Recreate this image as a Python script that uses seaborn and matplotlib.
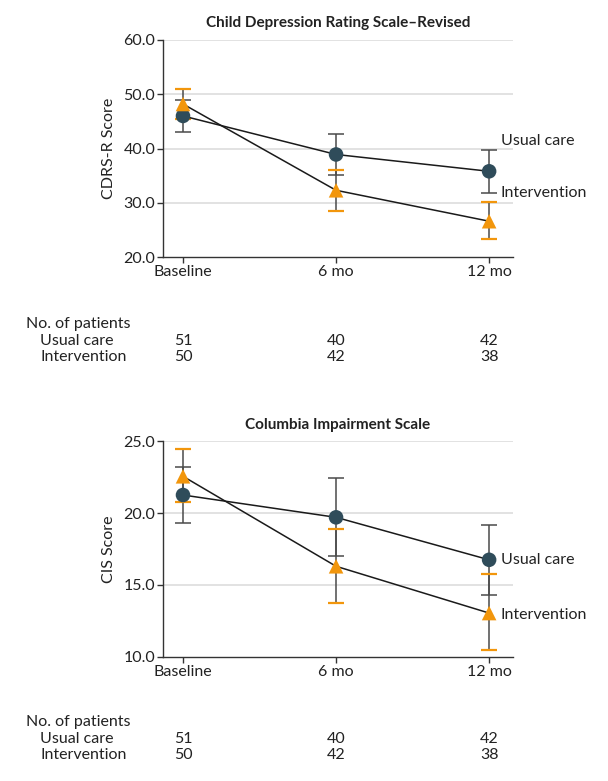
import matplotlib
matplotlib.use("Agg")
import matplotlib.pyplot as plt
import matplotlib.transforms as mtransforms
import seaborn as sns
import pandas as pd

# time points and groups
time_points = ["Baseline", "6 mo", "12 mo"]
groups = ["Usual care", "Intervention"]

# CDRS-R means and 95% CI
cdrs_usual = [46.0, 38.9, 35.8]
cdrs_usual_lo = [43.0, 35.1, 31.8]
cdrs_usual_hi = [48.9, 42.7, 39.7]
cdrs_int = [48.2, 32.3, 26.6]
cdrs_int_lo = [45.5, 28.5, 23.3]
cdrs_int_hi = [50.9, 36.1, 30.2]

# CIS means and 95% CI
cis_usual = [21.25, 19.7, 16.75]
cis_usual_lo = [19.3, 17.0, 14.3]
cis_usual_hi = [23.2, 22.45, 19.2]
cis_int = [22.55, 16.3, 13.05]
cis_int_lo = [20.75, 13.75, 10.45]
cis_int_hi = [24.45, 18.9, 15.75]

# patients at each visit
n_usual = [51, 40, 42]
n_int = [50, 42, 38]

NAVY = "#2F4C5A"
ORANGE = "#F2960C"
BAR = "#4A4A4A"
TXT = "#222222"

sns.set_style("white")
plt.rcParams["font.family"] = ["Lato", "DejaVu Sans"]
plt.rcParams["font.size"] = 11.5


def make_df(u, ulo, uhi, i, ilo, ihi):
    rows = []
    for g, m, lo, hi in [("Usual care", u, ulo, uhi), ("Intervention", i, ilo, ihi)]:
        for k, t in enumerate(time_points):
            rows.append({"time": t, "pos": k, "group": g, "mean": m[k], "lo": lo[k], "hi": hi[k]})
    return pd.DataFrame(rows)


def draw_panel(ax, df, title, ylabel, ylim, yticks, lab_y):
    # connecting lines
    for g in groups:
        d = df[df.group == g]
        sns.lineplot(data=d, x="pos", y="mean", color="#1a1a1a", lw=1.1, ax=ax,
                     zorder=2, legend=False, sort=False)
    # error bars: gray stem, coloured caps
    for g, capc in [("Usual care", BAR), ("Intervention", ORANGE)]:
        d = df[df.group == g]
        err = [d["mean"] - d["lo"], d["hi"] - d["mean"]]
        ax.errorbar(d["pos"], d["mean"], yerr=err, fmt="none", ecolor=BAR,
                    elinewidth=1.1, capsize=0, zorder=1)
        ax.errorbar(d["pos"], d["mean"], yerr=err, fmt="none", ecolor=capc,
                    elinewidth=0, capsize=6, capthick=1.6 if g == "Intervention" else 1.1,
                    zorder=1.5)
    sns.scatterplot(data=df, x="pos", y="mean", hue="group", style="group",
                    palette={"Usual care": NAVY, "Intervention": ORANGE},
                    markers={"Usual care": "o", "Intervention": "^"},
                    s=110, edgecolor="none", ax=ax, zorder=3, legend=False)

    ax.set_xlim(-0.131, 2.157)
    ax.set_ylim(*ylim)
    ax.set_yticks(yticks)
    ax.set_yticklabels([f"{v:.1f}" for v in yticks])
    ax.set_xticks(range(len(time_points)))
    ax.set_xticklabels(time_points)
    ax.set_xlabel("")
    ax.set_ylabel(ylabel, color=TXT, labelpad=5)
    ax.set_title(title, fontweight="bold", color=TXT, pad=9, fontsize=11)
    for v in yticks[1:]:
        ax.axhline(v, color="#DDDDDD", lw=1.2, zorder=0)
    sns.despine(ax=ax)
    for sp in ["left", "bottom"]:
        ax.spines[sp].set_color("#333333")
        ax.spines[sp].set_linewidth(1.0)
    ax.tick_params(axis="both", direction="out", length=4, width=1.0,
                   color="#333333", labelcolor=TXT, pad=1.5, left=True, bottom=True)
    # series labels at right
    ax.text(2.075, lab_y[0], "Usual care", color=TXT, va="center", ha="left", clip_on=False)
    ax.text(2.075, lab_y[1], "Intervention", color=TXT, va="center", ha="left", clip_on=False)


def draw_counts(fig, ax, y0):
    tr = mtransforms.blended_transform_factory(ax.transData, fig.transFigure)
    fig.text(26 / 608, y0, "No. of patients", color=TXT, va="center", ha="left")
    fig.text(40 / 608, y0 - 17 / 781, "Usual care", color=TXT, va="center", ha="left")
    fig.text(40 / 608, y0 - 33 / 781, "Intervention", color=TXT, va="center", ha="left")
    for k in range(len(time_points)):
        ax.text(k, y0 - 17 / 781, str(n_usual[k]), transform=tr, color=TXT, va="center", ha="center")
        ax.text(k, y0 - 33 / 781, str(n_int[k]), transform=tr, color=TXT, va="center", ha="center")


fig = plt.figure(figsize=(6.08, 7.81), dpi=100)
ax1 = fig.add_axes([0.268, 0.6709, 0.576, 0.2779])
ax2 = fig.add_axes([0.268, 0.1588, 0.576, 0.2765])

df1 = make_df(cdrs_usual, cdrs_usual_lo, cdrs_usual_hi, cdrs_int, cdrs_int_lo, cdrs_int_hi)
df2 = make_df(cis_usual, cis_usual_lo, cis_usual_hi, cis_int, cis_int_lo, cis_int_hi)

draw_panel(ax1, df1, "Child Depression Rating Scale\u2013Revised", "CDRS-R Score",
           (20, 60), [20, 30, 40, 50, 60], (41.3, 31.8))
draw_panel(ax2, df2, "Columbia Impairment Scale", "CIS Score",
           (10, 25), [10, 15, 20, 25], (16.75, 12.95))

draw_counts(fig, ax1, 1 - 324 / 781)
draw_counts(fig, ax2, 1 - 722 / 781)

fig.savefig("out.png", dpi=100, facecolor="white")
